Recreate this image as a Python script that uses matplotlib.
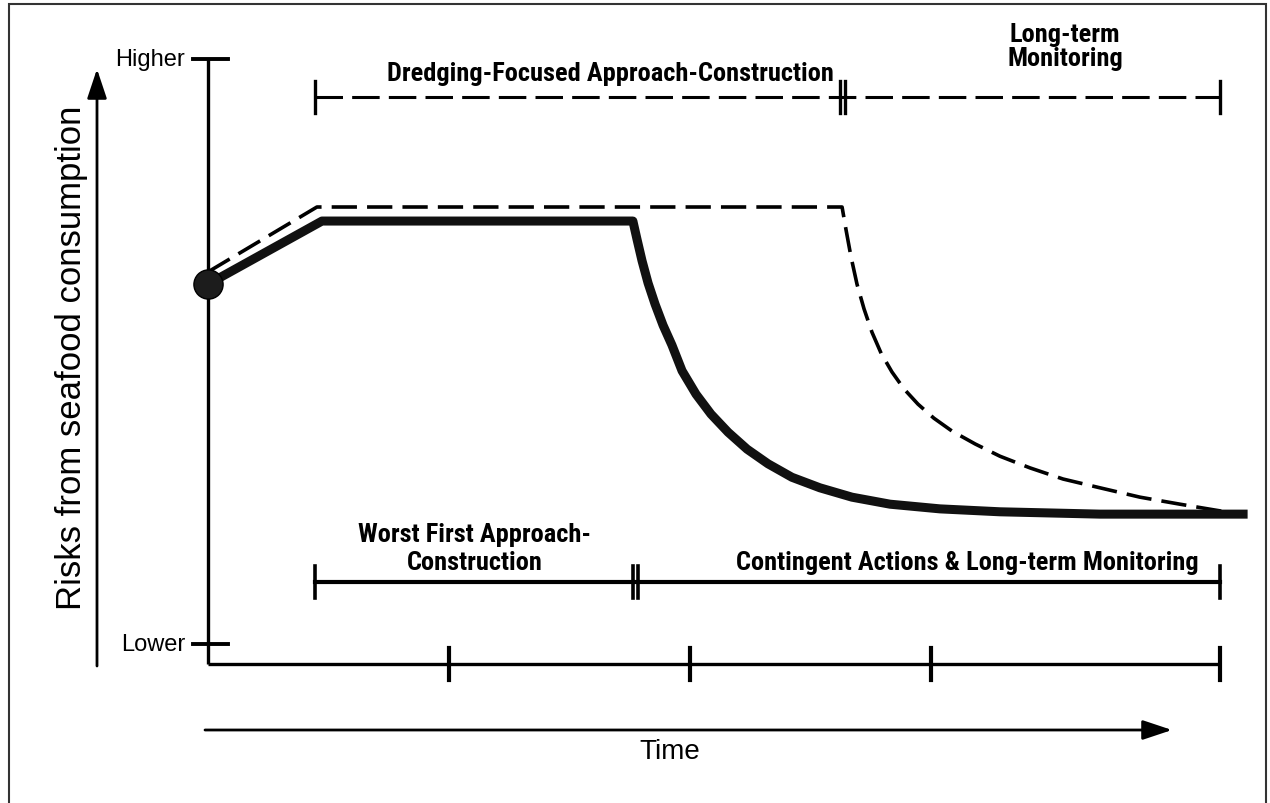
import matplotlib
matplotlib.use("Agg")
import matplotlib.pyplot as plt
from matplotlib import font_manager
from matplotlib.patches import Rectangle

#----- data (time units along x, risk units along y) -----#

time_ticks = [1, 2, 3, 4.2]
level_labels = ["Lower", "Higher"]
level_values = [0, 10]

# worst first approach (thick solid curve)
worst_t = [0, 0.473, 1.763, 1.780, 1.801, 1.826, 1.855, 1.888, 1.925, 1.967,
           2.025, 2.087, 2.158, 2.237, 2.324, 2.423, 2.539, 2.672, 2.830,
           3.037, 3.286, 3.701, 4.295]
worst_r = [6.15, 7.23, 7.23, 6.92, 6.55, 6.17, 5.81, 5.45, 5.11, 4.67,
           4.27, 3.93, 3.62, 3.33, 3.08, 2.85, 2.67, 2.51, 2.39,
           2.31, 2.26, 2.22, 2.22]

# dredging-focused approach (dashed curve)
dredge_t = [0, 0.452, 2.631, 2.647, 2.668, 2.693, 2.722, 2.755, 2.793, 2.838,
            2.888, 2.946, 3.012, 3.087, 3.183, 3.286, 3.411, 3.548, 3.701,
            3.867, 4.033, 4.178, 4.282]
dredge_r = [6.36, 7.47, 7.47, 7.09, 6.62, 6.15, 5.73, 5.33, 4.97, 4.65,
            4.36, 4.10, 3.86, 3.64, 3.42, 3.21, 3.01, 2.82, 2.67,
            2.51, 2.39, 2.29, 2.22]

# phase bars
dredge_phases = [0.444, 2.632, 4.2]
dredge_labels = ["Dredging-Focused Approach-Construction", "Long-term\nMonitoring"]
worst_phases = [0.444, 1.774, 4.2]
worst_labels = ["Worst First Approach-\nConstruction",
                "Contingent Actions & Long-term Monitoring"]

#----- fonts -----#
names = {f.name for f in font_manager.fontManager.ttflist}
plain = "Liberation Sans"
narrow = plain
for cand in ["Liberation Sans Narrow", "Roboto Condensed"]:
    if cand in names:
        narrow = cand
        break
plt.rcParams["font.family"] = [plain, "DejaVu Sans"]

#----- figure, axes mapped on the whole canvas -----#
fig = plt.figure(figsize=(12.7, 8.04), dpi=100)
ax = fig.add_axes([0, 0, 1, 1])
px_t = 241.0   # pixels per time unit
px_r = 58.5    # pixels per risk unit
ax.set_xlim(-208 / px_t, (1270 - 208) / px_t)
ax.set_ylim((645 - 804) / px_r, 645 / px_r)
ax.axis("off")

# scanned frame
fig.patches.append(Rectangle((9 / 1270, -0.02), 1257 / 1270, 1.02 - 5 / 804,
                             transform=fig.transFigure, fill=False,
                             lw=1.5, ec="#333333"))

base = -20 / px_r          # x axis level
dt = 5 / px_t              # gap of double ticks
th = 16 / px_r             # half height of ticks

# axes
ax.plot([0, 0], [base, level_values[1]], color="k", lw=2.4, solid_capstyle="butt")
ax.plot([0, time_ticks[-1]], [base, base], color="k", lw=2.4, solid_capstyle="butt")
for lab, v in zip(level_labels, level_values):
    ax.plot([-15 / px_t, 20 / px_t], [v, v], color="k", lw=2.8)
    ax.text(-23 / px_t, v, lab, ha="right", va="center", fontsize=17)
for t in time_ticks:
    ax.plot([t, t], [base - th, base + th], color="k", lw=3)

# curves
ax.plot(dredge_t, dredge_r, color="k", lw=2.6, dashes=(7, 2.8), zorder=3)
ax.plot(worst_t, worst_r, color="#111111", lw=6.5, solid_joinstyle="round", zorder=4)
ax.plot(worst_t[0], worst_r[0], "o", ms=21, color="#1c1c1c", mec="k", zorder=5)

# phase bars
top = (645 - 98) / px_r
bot = (645 - 583) / px_r
ax.plot([dredge_phases[0], dredge_phases[-1]], [top, top], color="k", lw=2.2,
        dashes=(9, 3))
for i, t in enumerate(dredge_phases):
    xs = [t - dt / 2, t + dt / 2] if 0 < i < len(dredge_phases) - 1 else [t]
    for x in xs:
        ax.plot([x, x], [top - th, top + th], color="k", lw=2.4)
ax.plot([worst_phases[0], worst_phases[-1]], [bot, bot], color="k", lw=3)
for i, t in enumerate(worst_phases):
    xs = [t - dt / 2, t + dt / 2] if 0 < i < len(worst_phases) - 1 else [t]
    for x in xs:
        ax.plot([x, x], [bot - th, bot + th], color="k", lw=2.6)

bold = dict(fontsize=19, fontweight="bold", family=[narrow, "DejaVu Sans"],
            ha="center", va="center")
ax.text((610 - 208) / px_t, (645 - 74) / px_r, dredge_labels[0], **bold)
ax.text((1065 - 208) / px_t, (645 - 47) / px_r, dredge_labels[1], linespacing=1.05, **bold)
ax.text((475 - 208) / px_t, (645 - 549) / px_r, worst_labels[0], linespacing=1.2, **bold)
ax.text((967 - 208) / px_t, (645 - 563) / px_r, worst_labels[1], **bold)

# axis arrows and titles
ax.annotate("", xy=(-111 / px_t, (645 - 70) / px_r), xytext=(-111 / px_t, (645 - 667) / px_r),
            arrowprops=dict(arrowstyle="-|>,head_length=0.9,head_width=0.3",
                            mutation_scale=20, lw=2, color="k", shrinkA=0, shrinkB=0))
ax.annotate("", xy=((1172 - 208) / px_t, (645 - 731) / px_r), xytext=(-3 / px_t, (645 - 731) / px_r),
            arrowprops=dict(arrowstyle="-|>,head_length=0.9,head_width=0.3",
                            mutation_scale=20, lw=2, color="k", shrinkA=0, shrinkB=0))
ax.text(-136 / px_t, (645 - 358) / px_r, "Risks from seafood consumption",
        rotation=90, ha="center", va="center", fontsize=25)
ax.text((670 - 208) / px_t, (645 - 752) / px_r, "Time", ha="center", va="center",
        fontsize=20)

fig.savefig("out.png", dpi=100)
